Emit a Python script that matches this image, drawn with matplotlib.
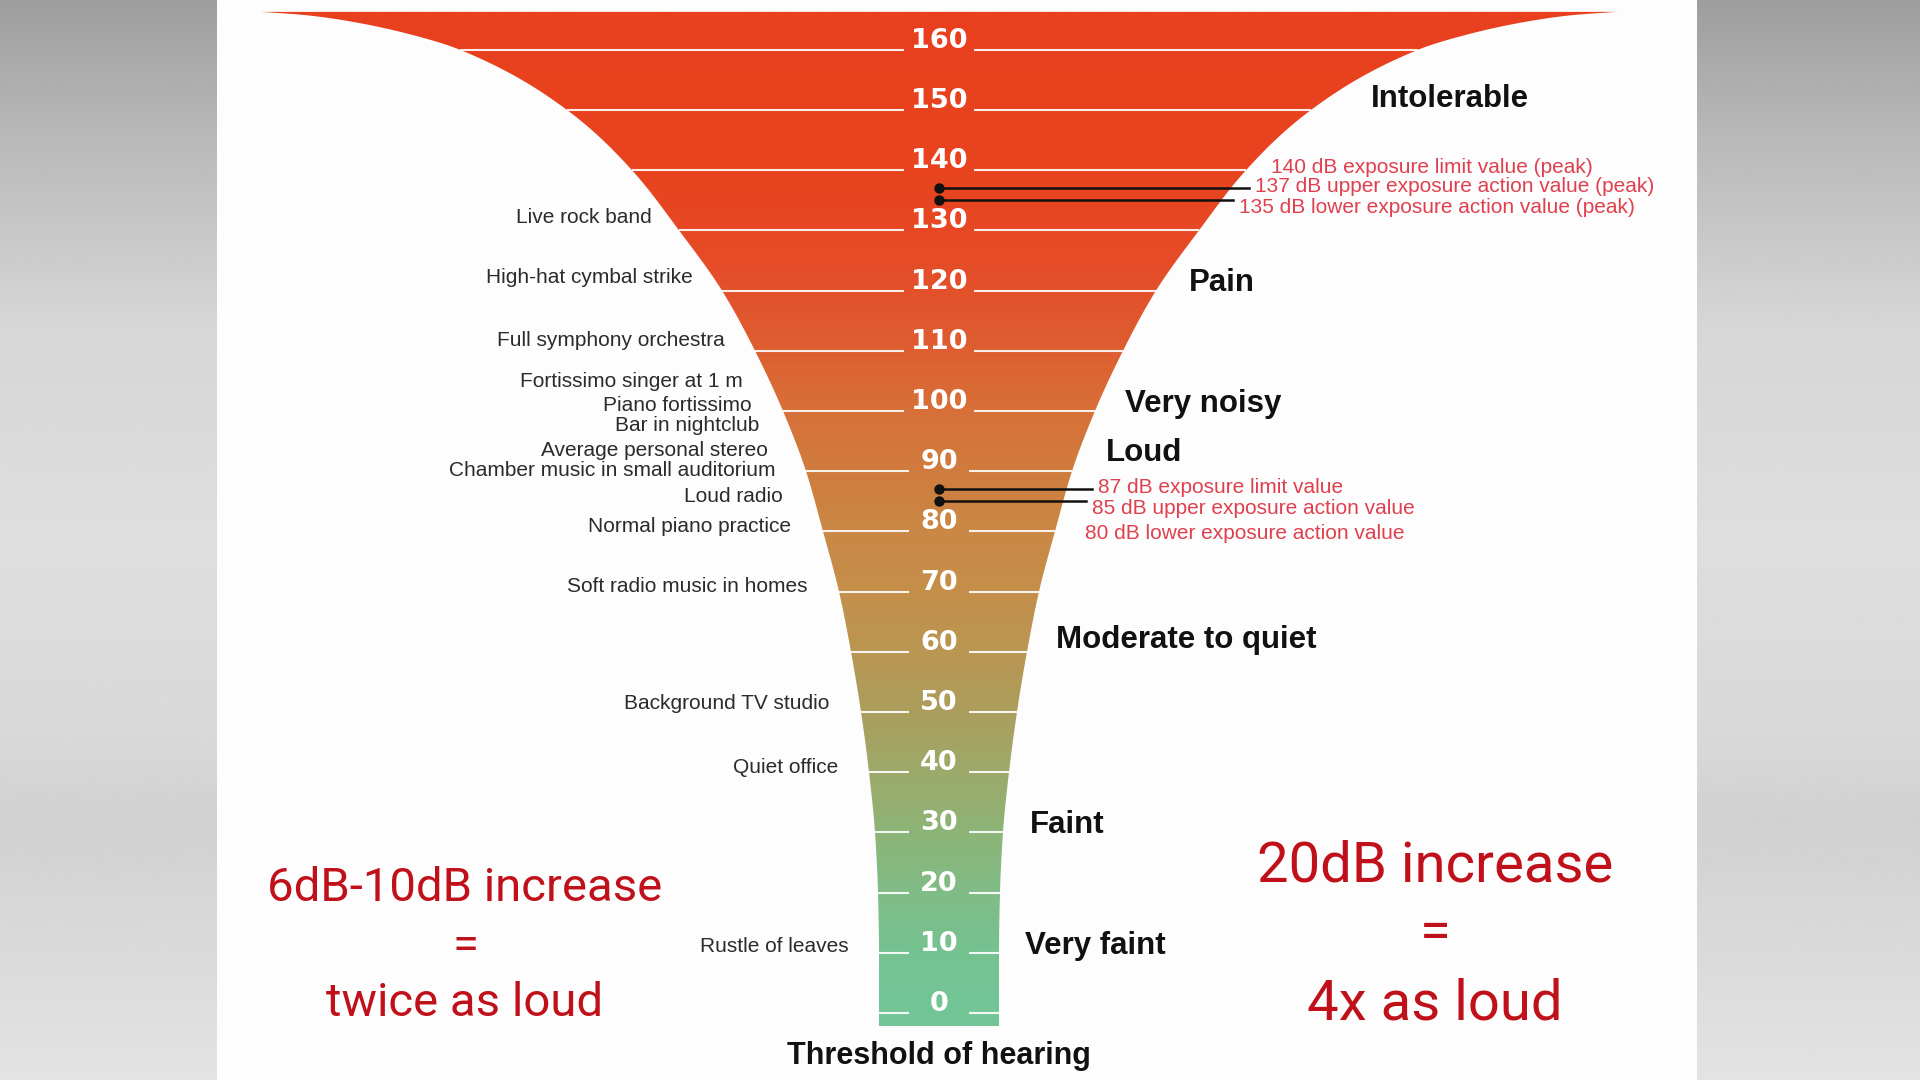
import numpy as np
import matplotlib
matplotlib.use("Agg")
import matplotlib.pyplot as plt
from matplotlib.colors import LinearSegmentedColormap
from matplotlib.patches import Polygon, Rectangle

# ---------------- data ----------------
tick_levels = list(range(0, 161, 10))

# funnel outline: level (dB) -> half width (px)
profile_db = [166.3, 165.8, 165.0, 162.7, 160, 150, 140, 130, 120, 110, 100,
              90, 80, 70, 60, 50, 40, 30, 20, 10, 0, -2.2]
profile_hw = [678, 636, 599, 532, 479, 372, 307, 260, 217, 184, 156,
              133, 116, 100, 88, 78, 70, 64, 61, 60, 60, 60]

sources = ["Live rock band", "High-hat cymbal strike", "Full symphony orchestra",
           "Fortissimo singer at 1 m", "Piano fortissimo", "Bar in nightclub",
           "Average personal stereo", "Chamber music in small auditorium",
           "Loud radio", "Normal piano practice", "Soft radio music in homes",
           "Background TV studio", "Quiet office", "Rustle of leaves"]
source_db = [132.5, 122.5, 112.1, 105.2, 101.3, 97.9, 93.8, 90.4, 86.1, 81.2,
             71.2, 51.7, 41.1, 11.4]

categories = ["Intolerable", "Pain", "Very noisy", "Loud", "Moderate to quiet",
              "Faint", "Very faint"]
category_db = [152.4, 121.7, 101.6, 93.6, 62.5, 31.8, 11.6]

limit_values = [140, 137, 135, 87, 85, 80]
limit_labels = ["140 dB exposure limit value (peak)",
                "137 dB upper exposure action value (peak)",
                "135 dB lower exposure action value (peak)",
                "87 dB exposure limit value",
                "85 dB upper exposure action value",
                "80 dB lower exposure action value"]
limit_has_marker = [False, True, True, True, True, False]

# ---------------- layout / style ----------------
W, H = 1920, 1080
CX = 939            # funnel centre (px)
PX_PER_DB = 6.02
Y0 = 1013           # pixel row of 0 dB
limit_text_shift = [0.8, 0.6, -0.9, 0.7, -0.9, 0.0]

grad_db = [0, 10, 20, 30, 40, 50, 60, 70, 80, 90, 100, 110, 120, 130, 140, 166.3]
grad_col = ['#73C596', '#76C291', '#80BC86', '#8EB477', '#9DA969', '#AC9E5D',
            '#BA9652', '#C48F4A', '#CA8845', '#D07C3E', '#D77038', '#DE5F31',
            '#E3512A', '#E74824', '#E8431F', '#E9401E']

RED_TXT = '#E0404E'
DARK_RED = '#C0111B'

_xp = np.array(profile_db[::-1], dtype=float)
_yp = np.array(profile_hw[::-1], dtype=float)


def _pchip_slopes(x, y):
    h = np.diff(x)
    delta = np.diff(y) / h
    m = np.zeros_like(y)
    m[0], m[-1] = delta[0], delta[-1]
    for k in range(1, len(x) - 1):
        if delta[k - 1] * delta[k] <= 0:
            m[k] = 0.0
        else:
            w1 = 2 * h[k] + h[k - 1]
            w2 = h[k] + 2 * h[k - 1]
            m[k] = (w1 + w2) / (w1 / delta[k - 1] + w2 / delta[k])
    return m


_m = _pchip_slopes(_xp, _yp)


def hw(d):
    d = np.atleast_1d(np.asarray(d, dtype=float))
    d = np.clip(d, _xp[0], _xp[-1])
    k = np.clip(np.searchsorted(_xp, d) - 1, 0, len(_xp) - 2)
    x0, x1 = _xp[k], _xp[k + 1]
    h = x1 - x0
    t = (d - x0) / h
    h00 = 2 * t**3 - 3 * t**2 + 1
    h10 = t**3 - 2 * t**2 + t
    h01 = -2 * t**3 + 3 * t**2
    h11 = t**3 - t**2
    out = h00 * _yp[k] + h10 * h * _m[k] + h01 * _yp[k + 1] + h11 * h * _m[k + 1]
    return out if out.size > 1 else float(out[0])


fig = plt.figure(figsize=(19.2, 10.8), dpi=100)

# background gradient + white panel
bg = fig.add_axes([0, 0, 1, 1])
bg.set_axis_off()
pos = np.linspace(0, 1, 400)
gray = np.interp(pos, [0, .12, .3, .5, .68, .76, .9, 1],
                 [0.62, 0.72, 0.84, 0.87, 0.85, 0.82, 0.86, 0.89])
bg.imshow(np.repeat(gray[:, None], 2, axis=1), cmap='gray', vmin=0, vmax=1,
          extent=[0, 1, 0, 1], aspect='auto', origin='upper')
bg.add_patch(Rectangle((217 / W, 0), (1697 - 217) / W, 1, facecolor='#FDFDFD',
                       edgecolor='none', transform=bg.transAxes))
bg.set_xlim(0, 1)
bg.set_ylim(0, 1)

# main axes: x in px relative to centre, y in dB
ax = fig.add_axes([0, 0, 1, 1])
ax.set_axis_off()
ax.patch.set_alpha(0)
xlim = (-CX, W - CX)
ylim = ((Y0 - H) / PX_PER_DB, Y0 / PX_PER_DB)

# funnel
grid = np.linspace(profile_db[-1], profile_db[0], 1500)
hws = hw(grid)
verts = np.concatenate([np.column_stack([-hws[::-1], grid[::-1]]),
                        np.column_stack([hws, grid])])
poly = Polygon(verts, closed=True, facecolor='none', edgecolor='none')
ax.add_patch(poly)
cmap = LinearSegmentedColormap.from_list(
    'funnel', [((d - grad_db[0]) / (grad_db[-1] - grad_db[0]), c)
               for d, c in zip(grad_db, grad_col)])
lev = np.linspace(profile_db[0], profile_db[-1], 800)
img = cmap((lev - grad_db[0]) / (grad_db[-1] - grad_db[0]))[:, None, :]
im = ax.imshow(np.repeat(img, 2, axis=1), extent=[-700, 700, profile_db[-1], profile_db[0]],
               aspect='auto', origin='upper', zorder=1)
im.set_clip_path(poly)

px = 1.0 / PX_PER_DB  # one pixel in dB

# tick lines and labels
for d in tick_levels:
    h = hw(d)
    gap = 35 if d >= 100 else 30
    ax.plot([-h, -gap], [d, d], color='white', lw=1.5, alpha=0.9, zorder=2,
            solid_capstyle='butt')
    ax.plot([gap, h], [d, d], color='white', lw=1.5, alpha=0.9, zorder=2,
            solid_capstyle='butt')
    ax.text(0, d + 2 * px, str(d), color='white', ha='center', va='baseline',
            fontsize=19.5, fontweight='bold', family='DejaVu Sans', zorder=3)

# sources on the left
for name, d in zip(sources, source_db):
    gap = 30 - 0.37 * max(0.0, d - 95)
    ax.text(-(hw(d) + gap), d - 7.5 * px, name, ha='right', va='baseline',
            fontsize=15, color='#2B2B2B', family='Liberation Sans', zorder=3)

# categories on the right
for name, d in zip(categories, category_db):
    gap = 26 + 0.6 * max(0.0, d - 130)
    ax.text(hw(d) + gap, d - 11 * px, name, ha='left', va='baseline',
            fontsize=22.5, fontweight='bold', color='#111111',
            family='Liberation Sans', zorder=3)
ax.text(0, -6.6 - 11 * px, "Threshold of hearing", ha='center', va='baseline',
        fontsize=22, fontweight='bold', color='#111111', family='Liberation Sans')

# exposure limits
for v, lab, mk, sh in zip(limit_values, limit_labels, limit_has_marker, limit_text_shift):
    ty = v + sh
    gap = 30 - 0.2 * max(0.0, ty - 95)
    tx = hw(ty) + gap
    ax.text(tx, ty - 7.5 * px, lab, ha='left', va='baseline', fontsize=15,
            color=RED_TXT, family='Liberation Sans', zorder=3)
    if mk:
        ax.plot([0, tx - 6], [v, v], color='#111111', lw=1.8, zorder=4)
        ax.plot([0], [v], 'o', color='#111111', ms=6.5, zorder=5)

# big annotations
ax.text(-474, 18.6, "6dB-10dB increase", ha='center', va='baseline', fontsize=34,
        color=DARK_RED, family='Roboto')
ax.text(-474, 9.0, "=", ha='center', va='baseline', fontsize=34,
        color=DARK_RED, family='Roboto')
ax.text(-474, -0.5, "twice as loud", ha='center', va='baseline', fontsize=34,
        color=DARK_RED, family='Roboto')
ax.text(496, 21.8, "20dB increase", ha='center', va='baseline', fontsize=40.5,
        color=DARK_RED, family='Roboto')
ax.text(496, 10.6, "=", ha='center', va='baseline', fontsize=40.5,
        color=DARK_RED, family='Roboto')
ax.text(496, -1.16, "4x as loud", ha='center', va='baseline', fontsize=40.5,
        color=DARK_RED, family='Roboto')

ax.set_xlim(*xlim)
ax.set_ylim(*ylim)

fig.savefig("out.png", dpi=100)
